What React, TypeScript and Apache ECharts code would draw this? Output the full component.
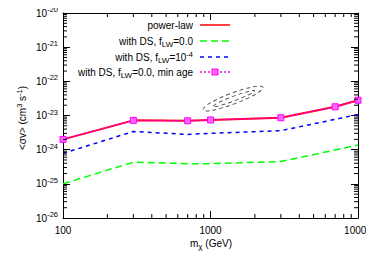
import React, { useEffect, useRef } from "react";
import * as echarts from "echarts";

const masses = [100, 300, 700, 1000, 3000, 7000, 10000];
const powerLaw = [2.0e-24, 7.2e-24, 7.0e-24, 7.4e-24, 8.6e-24, 1.8e-23, 2.8e-23];
const dsF00 = [1.0e-25, 4.3e-25, 3.9e-25, 3.9e-25, 4.5e-25, 9.8e-25, 1.37e-24];
const dsF1e4 = [7.8e-25, 3.4e-24, 2.8e-24, 3.0e-24, 3.6e-24, 7.7e-24, 1.08e-23];
const dsMinAge = [2.0e-24, 7.2e-24, 7.0e-24, 7.4e-24, 8.6e-24, 1.8e-23, 2.8e-23];

// axis ranges (decades)
const xMin = 100;
const xMax = 10000;
const yMin = 1e-26;
const yMax = 1e-20;

const lg = (v: number) => Math.log10(v);

const xMinorTicks: number[] = [];
[100, 1000].forEach((d) => {
  for (let k = 2; k <= 9; k++) xMinorTicks.push(k * d);
});
const yMinorTicks: number[] = [];
for (let e = -26; e < -20; e++) {
  for (let k = 2; k <= 9; k++) yMinorTicks.push(k * Math.pow(10, e));
}

const FONT = "Liberation Sans";

export default function App() {
  const ref = useRef<HTMLDivElement>(null);
  useEffect(() => {
    if (!ref.current) return;
    const chart = echarts.init(ref.current, undefined, { renderer: "svg" });
    const pair = (ys: number[]) => masses.map((m, i) => [lg(m), lg(ys[i])]);
    const baseAxisX = {
      type: "value" as const,
      min: lg(xMin),
      max: lg(xMax),
      interval: 1,
      axisLine: { show: true, onZero: false, lineStyle: { color: "#000", width: 1 } },
      axisTick: { show: true, inside: true, length: 7, lineStyle: { color: "#000" } },
      splitLine: { show: false },
    };
    const baseAxisY = {
      type: "value" as const,
      min: lg(yMin),
      max: lg(yMax),
      interval: 1,
      axisLine: { show: true, onZero: false, lineStyle: { color: "#000", width: 1 } },
      axisTick: { show: true, inside: true, length: 7, lineStyle: { color: "#000" } },
      splitLine: { show: false },
    };
    const rowY = [25, 41, 57, 72];
    const legendTextX = 193;
    const lx0 = 200;
    const lx1 = 230;
    const richLegend = {
      sub: { fontSize: 8, fontFamily: FONT, fill: "#000", verticalAlign: "bottom", lineHeight: 14 },
      sup: { fontSize: 7.5, fontFamily: FONT, fill: "#000", verticalAlign: "top", lineHeight: 14 },
    };
    const legendText = (y: number, text: string) => ({
      type: "text",
      x: legendTextX,
      y,
      style: {
        text,
        fontSize: 10,
        fontFamily: FONT,
        fill: "#000",
        align: "right",
        verticalAlign: "middle",
        lineHeight: 14,
        rich: richLegend,
      },
    });
    const legendLine = (y: number, color: string, dash: number[] | null, width: number) => ({
      type: "line",
      shape: { x1: lx0, y1: y, x2: lx1, y2: y },
      style: { stroke: color, lineWidth: width, lineDash: dash || undefined },
    });

    const option: any = {
      animation: false,
      grid: { left: 63, right: 16, top: 13, bottom: 44, outerBoundsMode: "none", containLabel: false },
      xAxis: [
        {
          ...baseAxisX,
          position: "bottom",
          axisLabel: {
            show: true,
            color: "#000",
            fontSize: 10,
            fontFamily: FONT,
            margin: 7,
            overflow: "none",
            hideOverlap: false,
            showMinLabel: true,
            showMaxLabel: true,
            formatter: (v: number) => String(Math.round(Math.pow(10, v))),
          },
        },
        { ...baseAxisX, position: "top", axisLabel: { show: false } },
      ],
      yAxis: [
        {
          ...baseAxisY,
          position: "left",
          axisLabel: {
            show: true,
            color: "#000",
            fontSize: 10,
            fontFamily: FONT,
            margin: 5,
            overflow: "none",
            showMinLabel: true,
            showMaxLabel: true,
            formatter: (v: number) => "10{sup|" + Math.round(v) + "}",
            rich: {
              sup: { fontSize: 7.5, fontFamily: FONT, color: "#000", verticalAlign: "top", lineHeight: 15 },
            },
            lineHeight: 15,
          },
        },
        { ...baseAxisY, position: "right", axisLabel: { show: false } },
      ],
      series: [
        {
          type: "line",
          name: "power-law",
          data: pair(powerLaw),
          symbol: "none",
          lineStyle: { color: "#ff0000", width: 2 },
          z: 3,
        },
        {
          type: "line",
          name: "with DS, fLW=0.0",
          data: pair(dsF00),
          symbol: "none",
          lineStyle: { color: "#00ff00", width: 1.5, type: [7, 4] },
          z: 3,
        },
        {
          type: "line",
          name: "with DS, fLW=1e-4",
          data: pair(dsF1e4),
          symbol: "none",
          lineStyle: { color: "#0000ff", width: 1.5, type: [4, 4] },
          z: 3,
        },
        {
          type: "line",
          name: "with DS, fLW=0.0, min age",
          data: pair(dsMinAge),
          symbol: "rect",
          symbolSize: 6,
          itemStyle: { color: "#ff66ff", borderColor: "#ff00ff", borderWidth: 1 },
          lineStyle: { color: "#ff00ff", width: 1.5, type: [2, 2] },
          z: 4,
        },
        {
          type: "custom",
          silent: true,
          clip: false,
          data: xMinorTicks.map((v) => [lg(v), lg(yMin)]),
          renderItem: (params: any, api: any) => {
            const v = api.value(0);
            const b = api.coord([v, lg(yMin)]);
            const t = api.coord([v, lg(yMax)]);
            return {
              type: "group",
              children: [
                { type: "line", shape: { x1: b[0], y1: b[1], x2: b[0], y2: b[1] - 4 }, style: { stroke: "#000", lineWidth: 1 } },
                { type: "line", shape: { x1: t[0], y1: t[1], x2: t[0], y2: t[1] + 4 }, style: { stroke: "#000", lineWidth: 1 } },
              ],
            };
          },
          z: 5,
        },
        {
          type: "custom",
          silent: true,
          clip: false,
          data: yMinorTicks.map((v) => [lg(xMin), lg(v)]),
          renderItem: (params: any, api: any) => {
            const v = api.value(1);
            const l = api.coord([lg(xMin), v]);
            const r = api.coord([lg(xMax), v]);
            return {
              type: "group",
              children: [
                { type: "line", shape: { x1: l[0], y1: l[1], x2: l[0] + 4, y2: l[1] }, style: { stroke: "#000", lineWidth: 1 } },
                { type: "line", shape: { x1: r[0], y1: r[1], x2: r[0] - 4, y2: r[1] }, style: { stroke: "#000", lineWidth: 1 } },
              ],
            };
          },
          z: 5,
        },
      ],
      graphic: [
        legendText(rowY[0], "power-law"),
        legendText(rowY[1], "with DS, f{sub|LW}=0.0"),
        legendText(rowY[2], "with DS, f{sub|LW}=10{sup|-4}"),
        legendText(rowY[3], "with DS, f{sub|LW}=0.0, min age"),
        legendLine(rowY[0], "#ff0000", null, 1.5),
        legendLine(rowY[1], "#00ff00", [7, 4], 1.5),
        legendLine(rowY[2], "#0000ff", [4, 4], 1.5),
        legendLine(rowY[3], "#ff00ff", [2, 2], 1.5),
        {
          type: "rect",
          shape: { x: (lx0 + lx1) / 2 - 3, y: rowY[3] - 3, width: 6, height: 6 },
          style: { fill: "#ff66ff", stroke: "#ff00ff", lineWidth: 1 },
        },
        {
          type: "ellipse",
          x: 233,
          y: 98.5,
          rotation: 0.36,
          shape: { cx: 0, cy: 0, rx: 32, ry: 5.5 },
          style: { fill: "none", stroke: "#555", lineWidth: 1, lineDash: [4, 3] },
        },
        {
          type: "ellipse",
          x: 234,
          y: 98.5,
          rotation: 0.36,
          shape: { cx: 0, cy: 0, rx: 22, ry: 2.3 },
          style: { fill: "none", stroke: "#555", lineWidth: 1, lineDash: [4, 3] },
        },
        {
          type: "text",
          x: 211,
          y: 243,
          style: {
            text: "m{sub|χ} (GeV)",
            fontSize: 10,
            fontFamily: FONT,
            fill: "#000",
            align: "center",
            verticalAlign: "middle",
            lineHeight: 14,
            rich: {
              sub: { fontSize: 8, fontFamily: FONT, fill: "#000", verticalAlign: "bottom", lineHeight: 14 },
            },
          },
        },
        {
          type: "text",
          x: 22,
          y: 118,
          rotation: Math.PI / 2,
          style: {
            text: "<σv> (cm{sup|3} s{sup|-1})",
            fontSize: 10,
            fontFamily: FONT,
            fill: "#000",
            align: "center",
            verticalAlign: "middle",
            lineHeight: 14,
            rich: {
              sup: { fontSize: 7.5, fontFamily: FONT, fill: "#000", verticalAlign: "top", lineHeight: 14 },
            },
          },
        },
      ],
    };
    chart.setOption(option);
    return () => chart.dispose();
  }, []);
  return <div ref={ref} style={{ width: 374, height: 262, margin: -8, background: "#fff" }} />;
}
